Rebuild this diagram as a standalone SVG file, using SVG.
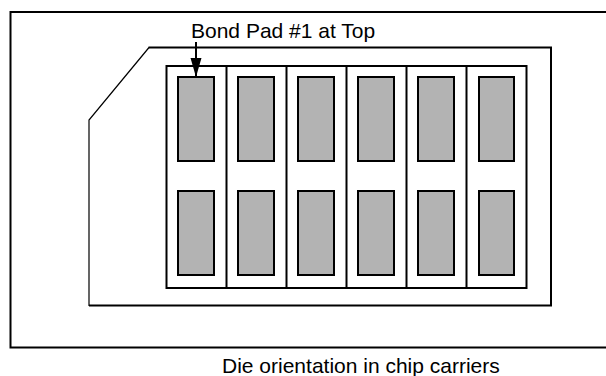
<svg xmlns="http://www.w3.org/2000/svg" width="606" height="376" viewBox="0 0 606 376">
<style>
.l{fill:none;stroke:#000;stroke-width:2}
.p{fill:#b3b3b3;stroke:#000;stroke-width:2}
text{font-family:"Liberation Sans",Arial,sans-serif;font-size:21px;fill:#000}
</style>
<defs><marker id="a" markerUnits="userSpaceOnUse" markerWidth="20" markerHeight="12" refX="19" refY="6" orient="auto"><path d="M0 0.500L19 6L0 11.500Z" fill="#000"/></marker></defs>
<rect width="606" height="376" fill="#fff"/>
<g id="frame"><path class="l" d="M606 12H10.500V347.500H606"/></g>
<g id="carrier"><path class="l" d="M148.500 47.500H551V305.500H89"/><path fill="none" stroke="#000" stroke-width="1.200" d="M89 306V120L149 47.500"/></g>
<g id="die"><rect class="l" x="166.500" y="66" width="360" height="222"/>
<path class="l" d="M226.500 66V288M286.500 66V288M346.500 66V288M406.500 66V288M466.500 66V288"/></g>
<g id="pads">
<rect class="p" x="178" y="77" width="36" height="84"/><rect class="p" x="238" y="77" width="36" height="84"/><rect class="p" x="298" y="77" width="36" height="84"/><rect class="p" x="358" y="77" width="36" height="84"/><rect class="p" x="418" y="77" width="36" height="84"/><rect class="p" x="479" y="77" width="35" height="84"/>
<rect class="p" x="178" y="191" width="36" height="84"/><rect class="p" x="238" y="191" width="36" height="84"/><rect class="p" x="298" y="191" width="36" height="84"/><rect class="p" x="358" y="191" width="36" height="84"/><rect class="p" x="418" y="191" width="36" height="84"/><rect class="p" x="479" y="191" width="35" height="84"/>
</g>
<g id="connectors"><path d="M196 42V77" fill="none" stroke="#000" stroke-width="2" marker-end="url(#a)"/></g>
<text x="191" y="38">Bond Pad #1 at Top</text>
<text x="222" y="373">Die orientation in chip carriers</text>
</svg>
